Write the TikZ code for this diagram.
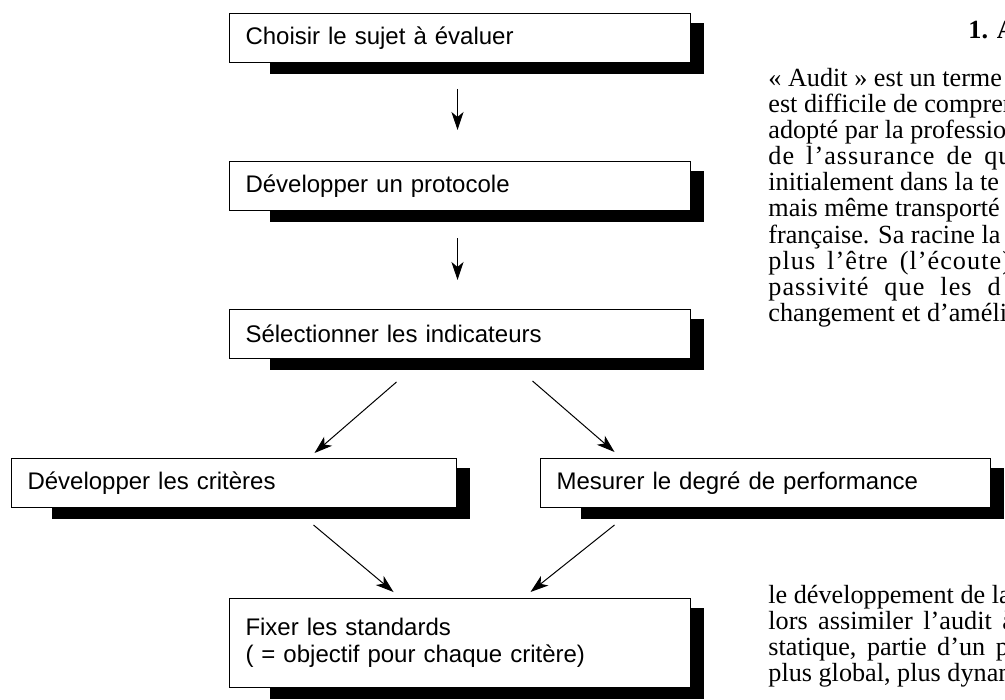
\documentclass[tikz,border=0pt]{standalone}
\usepackage{fontspec}
\setmainfont{Liberation Serif}
\newfontfamily\boxfont{Liberation Sans}
\newfontfamily\spacedfont[LetterSpace=4]{Liberation Serif}
\usetikzlibrary{arrows.meta,backgrounds}

\tikzset{
  stepbox/.style={draw, fill=white, line width=0.5pt, anchor=north west,
    inner xsep=8pt, inner ysep=0pt, minimum height=24.5pt,
    text width=214.5pt, align=left,
    font=\boxfont\fontsize{12}{13.5}\selectfont},
  flow/.style={-{Stealth[length=9pt,width=6pt,inset=2.5pt]}, line width=0.5pt},
  para/.style={anchor=base west, inner sep=0pt,
    font=\fontsize{13.1}{13}\selectfont},
  spaced/.style={para, font=\spacedfont\fontsize{13.1}{13}\selectfont}
}

\begin{document}
\begin{tikzpicture}[x=0.5pt,y=-0.5pt]
\useasboundingbox (0,0) rectangle (1005,700);
\clip (0,0) rectangle (1005,700);

% the flow chart
\node[stepbox] (choisir) at (229,13) {Choisir le sujet à évaluer};
\node[stepbox] (protocole) at (229,161) {Développer un protocole};
\node[stepbox] (indicateurs) at (229,309) {Sélectionner les indicateurs};
\node[stepbox, text width=206.5pt] (criteres) at (11,458) {Développer les critères};
\node[stepbox, text width=209pt] (mesurer) at (540,458) {Mesurer le degré de performance};
\node[stepbox, minimum height=44.5pt] (standards) at (229,598)
  {Fixer les standards\\( = objectif pour chaque critère)};

% shadows
\begin{scope}[on background layer]
\foreach \b in {choisir,protocole,indicateurs,criteres,mesurer,standards}
  \fill ([shift={(41,10)}]\b.north west) rectangle ([shift={(13,11)}]\b.south east);
\end{scope}

\draw[flow] ([shift={(-2.5,26)}]choisir.south) -- ([shift={(-2.5,-31)}]protocole.north);
\draw[flow] ([shift={(-2.5,27)}]protocole.south) -- ([shift={(-2.5,-29)}]indicateurs.north);
\draw[flow] ([shift={(-63.5,23)}]indicateurs.south) -- ([shift={(80.5,-5)}]criteres.north);
\draw[flow] ([shift={(72.5,22)}]indicateurs.south) -- ([shift={(-151,-6)}]mesurer.north);
\draw[flow] ([shift={(79.5,17)}]criteres.south) -- ([shift={(-66.5,-6)}]standards.north);
\draw[flow] ([shift={(-151,17)}]mesurer.south) -- ([shift={(70.5,-6)}]standards.north);

% the text beside it
\node[para, font=\bfseries\fontsize{13.1}{13}\selectfont] (titre) at (968,39) {1. A};
\node[para] (l1) at (768,87) {« Audit » est un terme};
\node[para] (l2) at (768,113) {est difficile de compren};
\node[para] (l3) at (768,139) {adopté par la profession};
\node[spaced] (l4) at (768,165) {de\hspace{6pt}l’assurance\hspace{6pt}de\hspace{6pt}qu};
\node[para] (l5) at (768,191) {initialement dans la te};
\node[para] (l6) at (768,217) {mais même transporté};
\node[para] (l7) at (768,243) {française. Sa racine la};
\node[spaced] (l8) at (768,269) {plus\hspace{6pt}l’être\hspace{6pt}(l’écoute)};
\node[spaced] (l9) at (768,295) {passivité\hspace{8pt}que\hspace{8pt}les\hspace{8pt}d};
\node[para] (l10) at (768,321) {changement et d’améli};

\node[para] (m1) at (768,603) {le développement de la};
\node[para] (m2) at (768,629) {lors\hspace{2pt} assimiler\hspace{2pt} l’audit\hspace{2pt} à};
\node[para] (m3) at (768,655) {statique,\hspace{2pt} partie\hspace{2pt} d’un\hspace{2pt} p};
\node[para] (m4) at (768,681) {plus global, plus dynam};
\end{tikzpicture}
\end{document}
